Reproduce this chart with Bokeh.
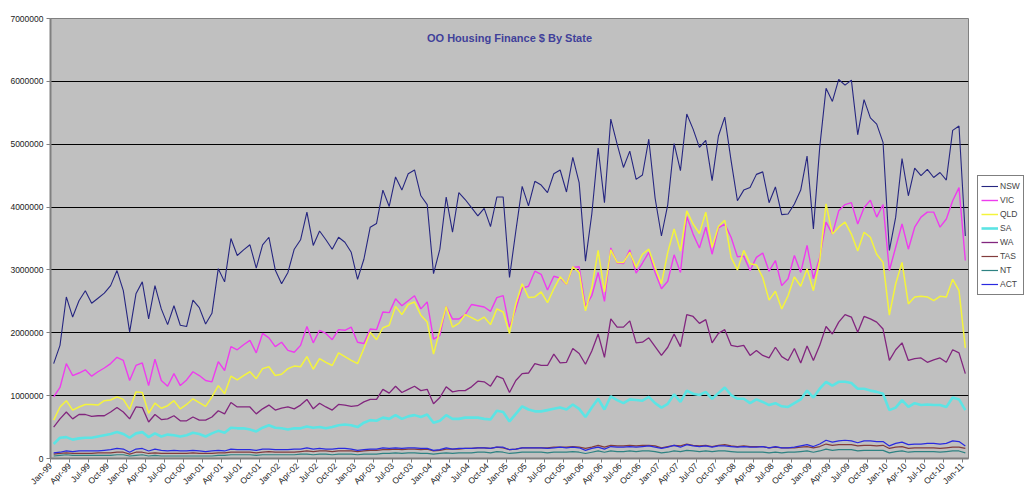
import pandas as pd
from bokeh.plotting import figure
from bokeh.models import Range1d, FixedTicker, Legend, LegendItem, Label, BasicTickFormatter, ColumnDataSource
from bokeh.embed import file_html
from bokeh.resources import INLINE

# ---- data (values in millions of $) ----
MONTHS = pd.date_range("1999-01-01", periods=145, freq="MS").strftime("%b-%y").tolist()
SERIES = ["NSW", "VIC", "QLD", "SA", "WA", "TAS", "NT", "ACT"]

NSW = [1.51, 1.80, 2.57, 2.25, 2.51, 2.67, 2.47, 2.55, 2.63, 2.75, 2.99, 2.67, 2.01, 2.62, 2.81, 2.22, 2.75, 2.38, 2.13, 2.43,
       2.12, 2.10, 2.52, 2.40, 2.14, 2.31, 3.02, 2.81, 3.50, 3.23, 3.32, 3.40, 3.03, 3.40, 3.52, 3.00, 2.78,
       2.96, 3.33, 3.48, 3.92, 3.39, 3.62, 3.48, 3.33, 3.52, 3.44, 3.28, 2.85, 3.17, 3.68, 3.74, 4.27, 4.01, 4.48, 4.27, 4.53,
       4.59, 4.18, 4.04, 2.94, 3.33, 4.16, 3.60, 4.23, 4.12, 3.99, 3.86, 3.98, 3.69, 4.16, 4.16, 2.88,
       3.62, 4.33, 4.02, 4.41, 4.35, 4.23, 4.53, 4.59, 4.24, 4.79, 4.39, 3.14, 3.89, 4.94, 4.07, 5.40, 5.00, 4.63, 4.89, 4.44,
       4.51, 5.08, 4.14, 3.54, 4.04, 5.01, 4.58, 5.48, 5.24, 4.95, 5.06, 4.42, 5.13, 5.43, 4.74, 4.10, 4.27,
       4.31, 4.52, 4.56, 4.07, 4.32, 3.88, 3.89, 4.05, 4.27, 4.81, 3.65, 4.95, 5.89, 5.68, 6.03, 5.94, 6.02, 5.15, 5.71, 5.42,
       5.32, 5.03, 3.31, 3.84, 4.77, 4.18, 4.62, 4.50, 4.60, 4.47, 4.55, 4.43, 5.22, 5.29, 3.54]

VIC = [0.98, 1.13, 1.51, 1.32, 1.36, 1.41, 1.31, 1.38, 1.44, 1.51, 1.61, 1.56, 1.24, 1.48, 1.52, 1.16, 1.58, 1.24, 1.15, 1.35,
       1.16, 1.25, 1.38, 1.32, 1.24, 1.22, 1.54, 1.40, 1.78, 1.73, 1.81, 1.88, 1.68, 1.99, 1.92, 1.78, 1.85,
       1.72, 1.69, 1.80, 2.10, 1.84, 2.04, 1.99, 1.89, 2.05, 2.04, 2.09, 1.85, 1.83, 2.06, 2.05, 2.33, 2.32, 2.54, 2.43, 2.51,
       2.59, 2.38, 2.49, 1.90, 1.96, 2.42, 2.22, 2.22, 2.29, 2.45, 2.43, 2.41, 2.34, 2.56, 2.59, 2.09,
       2.38, 2.71, 2.74, 2.98, 2.93, 2.68, 2.90, 2.87, 2.77, 3.04, 3.05, 2.42, 2.59, 2.96, 2.50, 3.35, 3.11, 3.10, 3.32, 2.95,
       3.11, 3.28, 2.96, 2.70, 2.82, 3.24, 2.96, 3.85, 3.57, 3.35, 3.68, 3.25, 3.67, 3.73, 3.52, 3.21, 3.22,
       2.99, 3.20, 3.27, 2.98, 3.15, 2.75, 2.86, 3.23, 2.96, 3.39, 2.86, 3.20, 3.76, 3.57, 3.94, 4.04, 4.07, 3.73, 3.99, 4.11,
       3.84, 4.04, 2.99, 3.36, 3.73, 3.33, 3.68, 3.84, 3.92, 3.92, 3.68, 3.81, 4.10, 4.31, 3.15]

QLD = [0.61, 0.82, 0.92, 0.77, 0.82, 0.86, 0.86, 0.85, 0.92, 0.93, 0.98, 0.94, 0.78, 1.06, 1.05, 0.72, 0.88, 0.80, 0.84, 0.92,
       0.79, 0.86, 0.95, 0.89, 0.83, 0.98, 1.16, 1.03, 1.31, 1.25, 1.32, 1.38, 1.27, 1.43, 1.46, 1.32, 1.34,
       1.43, 1.47, 1.46, 1.62, 1.42, 1.59, 1.53, 1.48, 1.68, 1.62, 1.56, 1.51, 1.75, 2.01, 1.89, 2.08, 2.12, 2.42, 2.29, 2.45,
       2.49, 2.28, 2.17, 1.66, 2.04, 2.42, 2.09, 2.15, 2.29, 2.24, 2.19, 2.25, 2.13, 2.38, 2.33, 1.99,
       2.46, 2.78, 2.56, 2.57, 2.65, 2.48, 2.70, 2.89, 2.77, 3.05, 2.96, 2.35, 2.72, 3.31, 2.65, 3.32, 3.12, 3.12, 3.28, 3.04,
       3.25, 3.33, 3.04, 2.78, 3.28, 3.65, 3.30, 3.94, 3.73, 3.58, 3.92, 3.36, 3.69, 3.79, 3.20, 3.00, 3.31,
       3.10, 3.08, 2.88, 2.52, 2.66, 2.38, 2.59, 2.89, 2.74, 3.02, 2.67, 3.15, 4.05, 3.57, 3.68, 3.76, 3.57, 3.30, 3.60, 3.52,
       3.25, 3.12, 2.28, 2.78, 3.12, 2.46, 2.57, 2.58, 2.57, 2.51, 2.58, 2.57, 2.85, 2.67, 1.76]

SA = [0.23, 0.33, 0.34, 0.30, 0.32, 0.33, 0.33, 0.35, 0.37, 0.39, 0.42, 0.39, 0.33, 0.40, 0.42, 0.34, 0.40, 0.35, 0.38, 0.37,
      0.35, 0.37, 0.41, 0.39, 0.35, 0.40, 0.44, 0.41, 0.49, 0.48, 0.48, 0.46, 0.43, 0.49, 0.53, 0.49, 0.48,
      0.46, 0.48, 0.48, 0.51, 0.49, 0.50, 0.48, 0.50, 0.53, 0.54, 0.53, 0.50, 0.57, 0.61, 0.60, 0.65, 0.63, 0.69, 0.63, 0.67,
      0.69, 0.66, 0.70, 0.57, 0.60, 0.69, 0.63, 0.63, 0.65, 0.65, 0.65, 0.63, 0.62, 0.76, 0.74, 0.59,
      0.71, 0.83, 0.78, 0.75, 0.75, 0.77, 0.79, 0.81, 0.78, 0.86, 0.79, 0.66, 0.81, 0.95, 0.78, 0.99, 0.93, 0.88, 0.94, 0.93,
      0.92, 0.98, 0.88, 0.81, 0.87, 1.02, 0.90, 1.08, 1.03, 1.01, 1.06, 0.95, 1.04, 1.13, 1.01, 0.95, 0.95,
      0.88, 0.94, 0.90, 0.85, 0.88, 0.83, 0.82, 0.88, 0.94, 1.08, 0.97, 1.11, 1.22, 1.16, 1.22, 1.22, 1.20, 1.11, 1.11, 1.08,
      1.06, 1.03, 0.77, 0.81, 0.93, 0.82, 0.88, 0.85, 0.86, 0.85, 0.85, 0.82, 0.97, 0.94, 0.77]

WA = [0.50, 0.63, 0.74, 0.63, 0.70, 0.70, 0.67, 0.68, 0.68, 0.74, 0.81, 0.74, 0.63, 0.82, 0.81, 0.58, 0.70, 0.62, 0.63, 0.68,
      0.60, 0.60, 0.66, 0.61, 0.61, 0.66, 0.76, 0.71, 0.89, 0.82, 0.82, 0.82, 0.71, 0.79, 0.85, 0.77, 0.80,
      0.82, 0.79, 0.85, 0.94, 0.79, 0.88, 0.82, 0.77, 0.86, 0.85, 0.83, 0.84, 0.90, 0.94, 0.94, 1.10, 1.04, 1.15, 1.05, 1.10,
      1.15, 1.08, 1.10, 0.87, 0.97, 1.14, 1.06, 1.08, 1.08, 1.14, 1.23, 1.22, 1.15, 1.31, 1.27, 1.05,
      1.24, 1.35, 1.36, 1.51, 1.48, 1.48, 1.66, 1.52, 1.53, 1.75, 1.67, 1.50, 1.71, 1.98, 1.61, 2.22, 2.09, 2.09, 2.19, 1.84,
      1.85, 1.92, 1.78, 1.64, 1.77, 1.98, 1.78, 2.29, 2.26, 2.15, 2.21, 1.84, 1.99, 2.05, 1.80, 1.78, 1.80,
      1.64, 1.72, 1.64, 1.60, 1.77, 1.62, 1.56, 1.75, 1.52, 1.79, 1.56, 1.80, 2.10, 1.98, 2.17, 2.29, 2.25, 2.01, 2.26, 2.22,
      2.17, 2.06, 1.56, 1.73, 1.84, 1.56, 1.59, 1.60, 1.53, 1.57, 1.60, 1.53, 1.73, 1.68, 1.35]

TAS = [0.07, 0.08, 0.09, 0.08, 0.08, 0.08, 0.08, 0.09, 0.09, 0.09, 0.10, 0.10, 0.07, 0.10, 0.10, 0.08, 0.09, 0.08, 0.08, 0.08,
       0.08, 0.08, 0.09, 0.08, 0.08, 0.08, 0.09, 0.09, 0.10, 0.10, 0.10, 0.10, 0.09, 0.10, 0.11, 0.10, 0.10, 0.10, 0.10, 0.11,
       0.12, 0.11, 0.12, 0.12, 0.11, 0.12, 0.12, 0.12, 0.11, 0.12, 0.13, 0.13, 0.14, 0.14, 0.15, 0.14, 0.15, 0.15, 0.14, 0.15,
       0.12, 0.13, 0.15, 0.15, 0.15, 0.16, 0.16, 0.17, 0.17, 0.16, 0.18, 0.17, 0.14, 0.15, 0.17, 0.17, 0.17, 0.17, 0.17, 0.18,
       0.18, 0.18, 0.19, 0.18, 0.16, 0.18, 0.21, 0.18, 0.21, 0.20, 0.20, 0.21, 0.20, 0.21, 0.21, 0.20, 0.17, 0.19, 0.21, 0.20,
       0.23, 0.21, 0.20, 0.21, 0.19, 0.21, 0.22, 0.20, 0.19, 0.20, 0.19, 0.19, 0.19, 0.17, 0.18, 0.17, 0.17, 0.17, 0.18, 0.19,
       0.17, 0.19, 0.23, 0.21, 0.22, 0.22, 0.22, 0.20, 0.21, 0.21, 0.20, 0.21, 0.16, 0.18, 0.19, 0.16, 0.17, 0.17, 0.17, 0.17,
       0.16, 0.17, 0.18, 0.18, 0.16]

NT = [0.04, 0.05, 0.06, 0.05, 0.05, 0.05, 0.05, 0.05, 0.05, 0.05, 0.06, 0.06, 0.04, 0.05, 0.06, 0.04, 0.05, 0.04, 0.04, 0.04,
      0.04, 0.04, 0.04, 0.04, 0.04, 0.04, 0.05, 0.05, 0.06, 0.06, 0.06, 0.06, 0.05, 0.06, 0.06, 0.06, 0.06, 0.06, 0.06, 0.07,
      0.07, 0.06, 0.07, 0.07, 0.06, 0.07, 0.07, 0.07, 0.06, 0.07, 0.07, 0.07, 0.08, 0.08, 0.09, 0.08, 0.09, 0.09, 0.08, 0.08,
      0.07, 0.08, 0.09, 0.08, 0.09, 0.09, 0.09, 0.10, 0.10, 0.09, 0.11, 0.10, 0.08, 0.09, 0.10, 0.10, 0.10, 0.10, 0.09, 0.10,
      0.10, 0.10, 0.11, 0.10, 0.08, 0.10, 0.12, 0.10, 0.12, 0.11, 0.11, 0.12, 0.11, 0.12, 0.12, 0.11, 0.09, 0.10, 0.12, 0.11,
      0.13, 0.12, 0.11, 0.12, 0.11, 0.12, 0.12, 0.11, 0.10, 0.10, 0.10, 0.10, 0.10, 0.09, 0.10, 0.09, 0.10, 0.10, 0.11, 0.12,
      0.10, 0.12, 0.15, 0.13, 0.14, 0.14, 0.14, 0.12, 0.13, 0.13, 0.13, 0.13, 0.09, 0.11, 0.12, 0.10, 0.11, 0.11, 0.11, 0.11,
      0.10, 0.11, 0.12, 0.12, 0.09]

ACT = [0.09, 0.10, 0.12, 0.11, 0.12, 0.12, 0.12, 0.12, 0.13, 0.14, 0.16, 0.15, 0.10, 0.15, 0.16, 0.12, 0.15, 0.13, 0.12, 0.13,
       0.12, 0.12, 0.13, 0.12, 0.11, 0.12, 0.13, 0.12, 0.15, 0.14, 0.14, 0.14, 0.13, 0.15, 0.15, 0.14, 0.14, 0.14, 0.15, 0.15,
       0.17, 0.15, 0.16, 0.15, 0.15, 0.16, 0.16, 0.15, 0.13, 0.14, 0.15, 0.15, 0.17, 0.16, 0.17, 0.16, 0.17, 0.17, 0.16, 0.16,
       0.13, 0.14, 0.17, 0.15, 0.16, 0.16, 0.16, 0.17, 0.17, 0.16, 0.18, 0.18, 0.14, 0.15, 0.17, 0.17, 0.17, 0.17, 0.16, 0.17,
       0.18, 0.17, 0.18, 0.17, 0.13, 0.16, 0.18, 0.15, 0.19, 0.18, 0.18, 0.19, 0.18, 0.19, 0.20, 0.18, 0.16, 0.18, 0.21, 0.18,
       0.22, 0.20, 0.19, 0.20, 0.18, 0.20, 0.20, 0.19, 0.18, 0.19, 0.18, 0.18, 0.19, 0.17, 0.19, 0.17, 0.17, 0.18, 0.20, 0.22,
       0.19, 0.23, 0.29, 0.26, 0.28, 0.29, 0.28, 0.25, 0.28, 0.28, 0.27, 0.27, 0.20, 0.24, 0.26, 0.22, 0.23, 0.23, 0.24, 0.24,
       0.23, 0.24, 0.28, 0.27, 0.20]

Y_TICKS = [0, 1000000, 2000000, 3000000, 4000000, 5000000, 6000000, 7000000]
TITLE = "OO Housing Finance $ By State"

COLORS = {"NSW": "#262680", "VIC": "#ee3cee", "QLD": "#f4f43c", "SA": "#5ce4e4",
          "WA": "#82267e", "TAS": "#823c3c", "NT": "#2e8282", "ACT": "#2a2ae0"}
WIDTHS = {"NSW": 1.1, "VIC": 1.4, "QLD": 1.5, "SA": 2.6, "WA": 1.3, "TAS": 1.2, "NT": 1.2, "ACT": 1.2}

data = {"NSW": NSW, "VIC": VIC, "QLD": QLD, "SA": SA, "WA": WA, "TAS": TAS, "NT": NT, "ACT": ACT}
src = ColumnDataSource(dict(x=list(range(len(MONTHS))), **{k: [v * 1e6 for v in vals] for k, vals in data.items()}))

FONT = "Liberation Sans"
n = len(MONTHS)

p = figure(frame_width=918, frame_height=440, output_backend="svg", toolbar_location=None,
           x_range=Range1d(-0.5, n - 0.5), y_range=Range1d(0, 7000000),
           min_border_left=50, min_border_right=55, min_border_top=18, min_border_bottom=43,
           background_fill_color="#c0c0c0", border_fill_color="white")
p.outline_line_color = "#808080"
p.outline_line_width = 1

# y axis
p.yaxis.ticker = FixedTicker(ticks=Y_TICKS)
p.yaxis.formatter = BasicTickFormatter(use_scientific=False)
p.yaxis.minor_tick_line_color = None
p.yaxis.major_tick_out = 4
p.yaxis.major_tick_in = 0
p.yaxis.major_label_standoff = 3
p.yaxis.axis_line_color = "#808080"
p.yaxis.axis_line_width = 2
p.yaxis.major_tick_line_color = "#808080"
p.yaxis.major_label_text_font = FONT
p.yaxis.major_label_text_font_size = "8.5px"
p.yaxis.major_label_text_color = "#222222"

# x axis: ticks on category boundaries every 3 months
xt = [i - 0.5 for i in range(0, n, 3)]
p.xaxis.ticker = FixedTicker(ticks=xt)
p.xaxis.major_label_overrides = {i - 0.5: MONTHS[i] for i in range(0, n, 3)}
p.xaxis.major_label_orientation = 0.785398
p.xaxis.minor_tick_line_color = None
p.xaxis.major_tick_out = 4
p.xaxis.major_tick_in = 0
p.xaxis.major_label_standoff = 2
p.xaxis.axis_line_color = "#808080"
p.xaxis.axis_line_width = 2
p.xaxis.major_tick_line_color = "#808080"
p.xaxis.major_label_text_font = FONT
p.xaxis.major_label_text_font_size = "8.5px"
p.xaxis.major_label_text_color = "#222222"

p.xgrid.grid_line_color = None
p.ygrid.grid_line_color = "black"
p.ygrid.grid_line_width = 1

items = []
for s in SERIES:
    r = p.line("x", s, source=src, line_color=COLORS[s], line_width=WIDTHS[s])
    items.append(LegendItem(label=s, renderers=[r]))

legend = Legend(items=items, location=(9, 163), orientation="vertical",
                padding=3, spacing=0, margin=0, glyph_width=17, glyph_height=14,
                label_standoff=2, label_text_font=FONT, label_text_font_size="8.5px",
                label_height=14, border_line_color="black", border_line_width=1,
                background_fill_color="white", background_fill_alpha=1.0)
p.add_layout(legend, "right")

p.add_layout(Label(x=(n - 1) / 2, y=6690000, text=TITLE, text_align="center", text_baseline="middle",
                   text_font=FONT, text_font_style="bold", text_font_size="11px", text_color="#40409a"))

open("out.html", "w").write(file_html(p, INLINE))
